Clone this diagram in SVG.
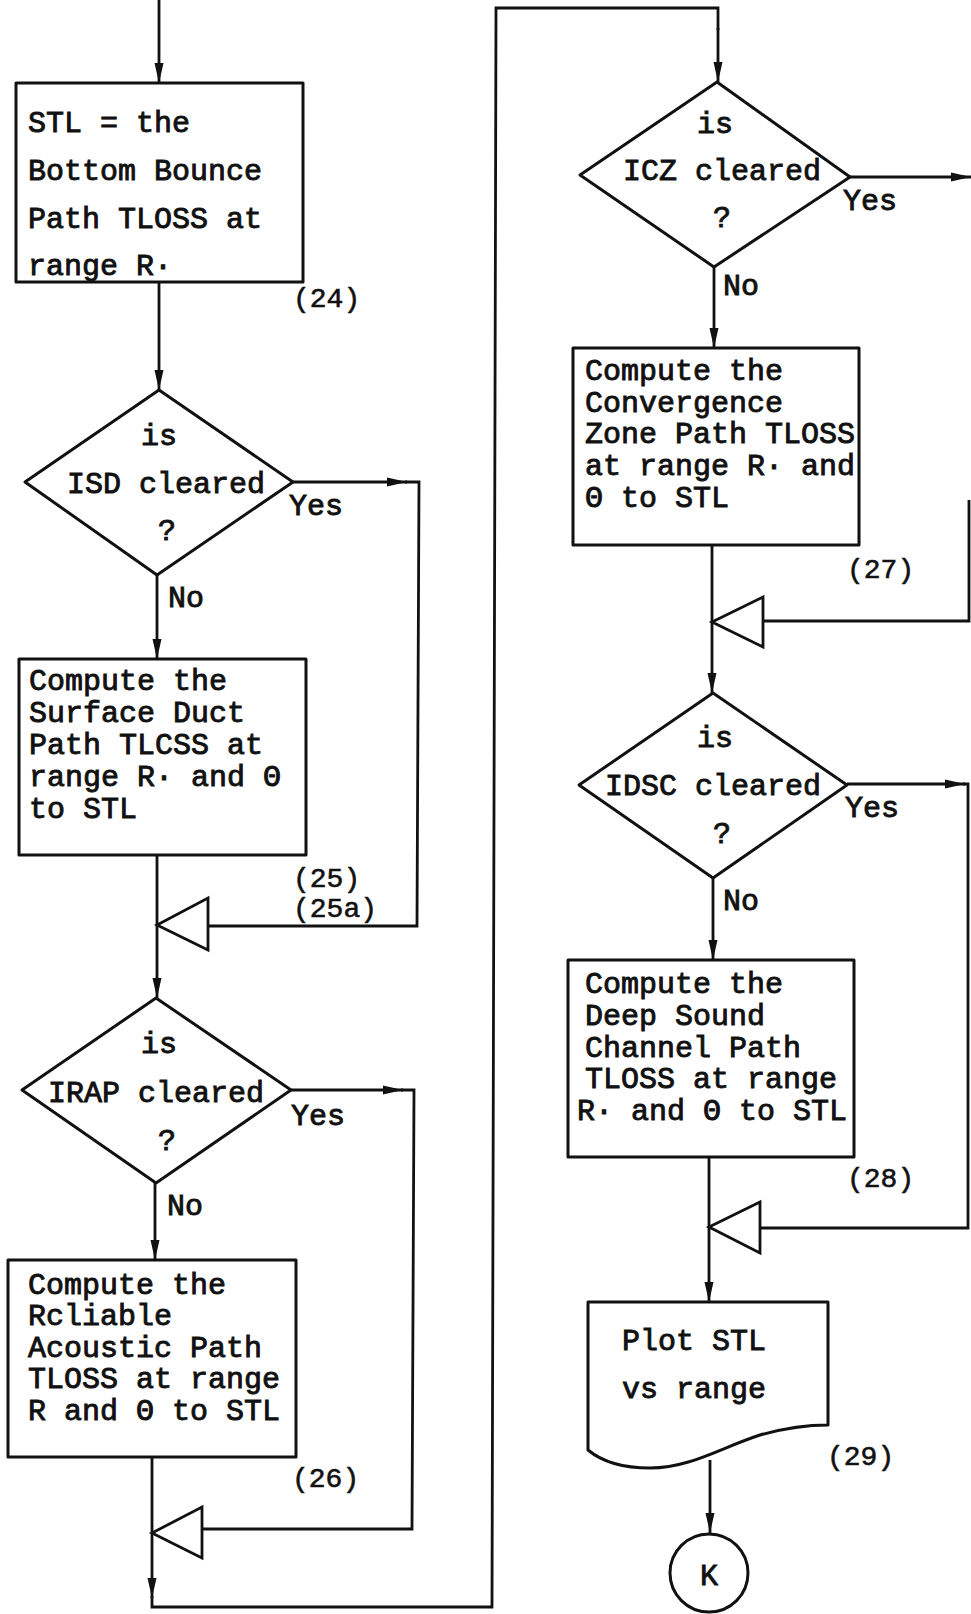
<svg xmlns="http://www.w3.org/2000/svg" width="971" height="1614" viewBox="0 0 971 1614">
<style>
.ln{fill:none;stroke:#111;stroke-width:2.8;stroke-linejoin:miter}
.sh{fill:#fff;stroke:#111;stroke-width:3;stroke-linejoin:round}
.tri{fill:#fff;stroke:#111;stroke-width:2.8;stroke-linejoin:miter}
.t{font-family:"Liberation Mono","Courier New",monospace;font-size:30px;fill:#111;stroke:#111;stroke-width:0.9}
.n{font-family:"Liberation Mono","Courier New",monospace;font-size:28px;fill:#111;stroke:#111;stroke-width:0.6}
.c{text-anchor:middle}
</style>
<defs>
<marker id="ah" markerUnits="userSpaceOnUse" markerWidth="20" markerHeight="10" refX="20" refY="5" orient="auto">
<path d="M0,0.5 L20,5 L0,9.5 Z" fill="#111"/>
</marker>
</defs>
<rect width="971" height="1614" fill="#fff"/>

<g id="connectors">
<line class="ln" x1="159" y1="0" x2="159" y2="83" marker-end="url(#ah)"/>
<line class="ln" x1="159" y1="282" x2="159" y2="390" marker-end="url(#ah)"/>
<line class="ln" x1="157" y1="575" x2="157" y2="659" marker-end="url(#ah)"/>
<line class="ln" x1="293" y1="482" x2="407" y2="482" marker-end="url(#ah)"/>
<polyline class="ln" points="405,482 419,482 417,926 208,926"/>
<line class="ln" x1="157" y1="855" x2="157" y2="998" marker-end="url(#ah)"/>
<line class="ln" x1="155" y1="1183" x2="155" y2="1260" marker-end="url(#ah)"/>
<line class="ln" x1="291" y1="1090" x2="403" y2="1090" marker-end="url(#ah)"/>
<polyline class="ln" points="401,1090 414,1090 412,1529 202,1529"/>
<line class="ln" x1="152" y1="1457" x2="152" y2="1598" marker-end="url(#ah)"/>
<polyline class="ln" points="152,1596 152,1607 492,1607 496,8 718,8 718,30"/>
<line class="ln" x1="718" y1="28" x2="718" y2="82" marker-end="url(#ah)"/>
<line class="ln" x1="714" y1="267" x2="714" y2="348" marker-end="url(#ah)"/>
<line class="ln" x1="850" y1="177" x2="971" y2="177" marker-end="url(#ah)"/>
<polyline class="ln" points="969,500 969,621 763,621"/>
<line class="ln" x1="712" y1="545" x2="712" y2="693" marker-end="url(#ah)"/>
<line class="ln" x1="713" y1="878" x2="713" y2="960" marker-end="url(#ah)"/>
<line class="ln" x1="847" y1="784" x2="965" y2="784" marker-end="url(#ah)"/>
<polyline class="ln" points="963,784 968,784 968,1228 760,1228"/>
<line class="ln" x1="709" y1="1157" x2="709" y2="1302" marker-end="url(#ah)"/>
<line class="ln" x1="710" y1="1460" x2="710" y2="1533" marker-end="url(#ah)"/>
<polygon class="tri" points="157,925 208,898 208,950"/>
<polygon class="tri" points="152,1533 202,1507 202,1558"/>
<polygon class="tri" points="712,622 763,597 763,647"/>
<polygon class="tri" points="709,1227 760,1202 760,1253"/>
<text class="t" x="289" y="515">Yes</text>
<text class="t" x="168" y="607">No</text>
<text class="t" x="291" y="1125">Yes</text>
<text class="t" x="167" y="1215">No</text>
<text class="t" x="843" y="210">Yes</text>
<text class="t" x="723" y="295">No</text>
<text class="t" x="845" y="817">Yes</text>
<text class="t" x="723" y="910">No</text>
</g>

<g id="n24">
<rect class="sh" x="16" y="83" width="287" height="199"/>
<text class="t" x="28" y="132">STL = the</text>
<text class="t" x="28" y="180">Bottom Bounce</text>
<text class="t" x="28" y="228">Path TLOSS at</text>
<text class="t" x="28" y="275">range R·</text>
<text class="n" x="293" y="307">(24)</text>
</g>

<g id="isd">
<polygon class="sh" points="159,390 293,482 157,575 25,482"/>
<text class="t c" x="159" y="445">is</text>
<text class="t" x="67" y="493">ISD cleared</text>
<text class="t c" x="167" y="540">?</text>
</g>

<g id="n25">
<rect class="sh" x="19" y="659" width="287" height="196"/>
<text class="t" x="29" y="690">Compute the</text>
<text class="t" x="29" y="722">Surface Duct</text>
<text class="t" x="29" y="754">Path TLCSS at</text>
<text class="t" x="29" y="786">range R· and Θ</text>
<text class="t" x="29" y="818">to STL</text>
<text class="n" x="293" y="887">(25)</text>
<text class="n" x="293" y="917">(25a)</text>
</g>

<g id="irap">
<polygon class="sh" points="156,998 291,1090 156,1183 22,1090"/>
<text class="t c" x="159" y="1053">is</text>
<text class="t" x="48" y="1102">IRAP cleared</text>
<text class="t c" x="167" y="1150">?</text>
</g>

<g id="n26">
<rect class="sh" x="8" y="1260" width="288" height="197"/>
<text class="t" x="28" y="1294">Compute the</text>
<text class="t" x="28" y="1325">Rcliable</text>
<text class="t" x="28" y="1357">Acoustic Path</text>
<text class="t" x="28" y="1388">TLOSS at range</text>
<text class="t" x="28" y="1420">R and Θ to STL</text>
<text class="n" x="292" y="1487">(26)</text>
</g>

<g id="icz">
<polygon class="sh" points="717,82 850,177 714,267 580,175"/>
<text class="t c" x="715" y="133">is</text>
<text class="t" x="623" y="180">ICZ cleared</text>
<text class="t c" x="722" y="227">?</text>
</g>

<g id="n27">
<rect class="sh" x="573" y="348" width="286" height="197"/>
<text class="t" x="585" y="380">Compute the</text>
<text class="t" x="585" y="412">Convergence</text>
<text class="t" x="585" y="443">Zone Path TLOSS</text>
<text class="t" x="585" y="475">at range R· and</text>
<text class="t" x="585" y="507">Θ to STL</text>
<text class="n" x="847" y="578">(27)</text>
</g>

<g id="idsc">
<polygon class="sh" points="713,693 847,785 713,878 579,785"/>
<text class="t c" x="715" y="747">is</text>
<text class="t" x="605" y="795">IDSC cleared</text>
<text class="t c" x="722" y="843">?</text>
</g>

<g id="n28">
<rect class="sh" x="568" y="960" width="286" height="197"/>
<text class="t" x="585" y="993">Compute the</text>
<text class="t" x="585" y="1025">Deep Sound</text>
<text class="t" x="585" y="1057">Channel Path</text>
<text class="t" x="585" y="1088">TLOSS at range</text>
<text class="t" x="577" y="1120">R· and Θ to STL</text>
<text class="n" x="847" y="1187">(28)</text>
</g>

<g id="n29">
<path class="sh" d="M588,1302 L828,1302 L828,1425 C805,1425 785,1428 760,1435 C720,1448 690,1468 650,1468 C620,1468 600,1460 588,1450 Z"/>
<text class="t" x="622" y="1350">Plot STL</text>
<text class="t" x="622" y="1398">vs range</text>
<text class="n" x="827" y="1465">(29)</text>
</g>

<g id="k">
<circle class="sh" cx="709" cy="1573" r="39"/>
<text class="t c" x="709" y="1585">K</text>
</g>
</svg>
